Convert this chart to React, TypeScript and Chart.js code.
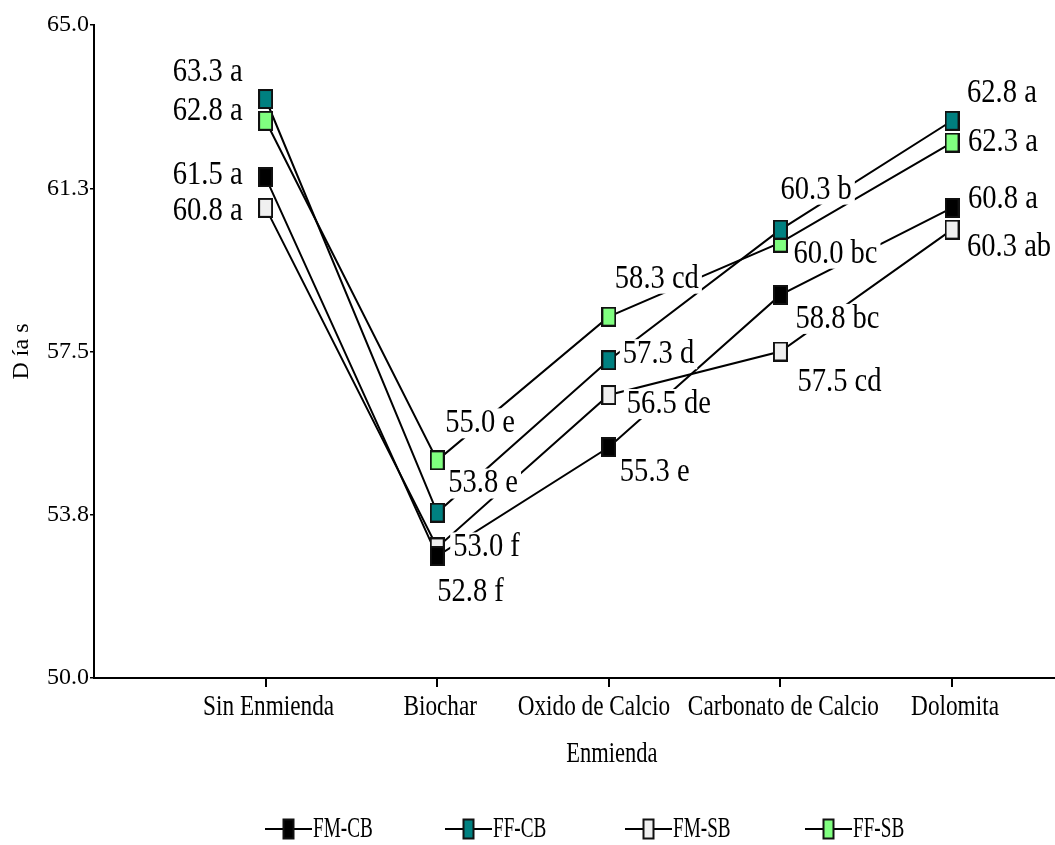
import React, { useEffect, useRef } from 'react';
import { Chart, registerables } from 'chart.js';

Chart.register(...registerables);

// ---------- data ----------
const CATEGORIES = ['Sin Enmienda', 'Biochar', 'Oxido de Calcio', 'Carbonato de Calcio', 'Dolomita'];
const SERIES_NAMES = ['FM-CB', 'FF-CB', 'FM-SB', 'FF-SB'];

const FM_CB = [61.5, 52.8, 55.3, 58.8, 60.8];
const FF_CB = [63.3, 53.8, 57.3, 60.3, 62.8];
const FM_SB = [60.8, 53.0, 56.5, 57.5, 60.3];
const FF_SB = [62.8, 55.0, 58.3, 60.0, 62.3];

const FM_CB_LETTERS = ['a', 'f', 'e', 'bc', 'a'];
const FF_CB_LETTERS = ['a', 'e', 'd', 'b', 'a'];
const FM_SB_LETTERS = ['a', 'f', 'de', 'cd', 'ab'];
const FF_SB_LETTERS = ['a', 'e', 'cd', 'bc', 'a'];

const Y_MIN = 50;
const Y_MAX = 65;
const Y_STEP = 3.75;

const X_TITLE = 'Enmienda';
const Y_TITLE = 'D ía s';

// ---------- styling / layout ----------
const SERIES_VALUES = [FM_CB, FF_CB, FM_SB, FF_SB];
const SERIES_LETTERS = [FM_CB_LETTERS, FF_CB_LETTERS, FM_SB_LETTERS, FF_SB_LETTERS];
const FILL_COLORS = ['#000000', '#008080', '#f0f0f0', '#80ff80'];

// pixel offsets of each value label from its point (dx<0 => right-aligned)
const LABEL_OFFSETS: number[][][] = [
  [[-23, -2], [0, 36], [11, 25], [15, 24], [16, -9]],
  [[-23, -27], [11, -29], [14, -6], [0, -40], [15, -28]],
  [[-23, 3], [16, 0], [18, 9], [17, 31], [15, 17]],
  [[-23, -10], [8, -37], [6, -38], [13, 11], [16, 0]],
];
// horizontal nudge of category labels (overlap avoidance as in the original)
const CATEGORY_LABEL_SHIFT = [3, 3, -15, 3, 3];

const SERIF = '"Liberation Serif", "Times New Roman", serif';
const LABEL_SIZE = 34;
const LABEL_SX = 0.84;
const XLABEL_SIZE = 30;
const XLABEL_SX = 0.775;
const LEGEND_SIZE = 30;
const LEGEND_SX = 0.64;

function markerCanvas(fill: string, w: number, h: number) {
  const c = document.createElement('canvas');
  c.width = w;
  c.height = h;
  const g = c.getContext('2d')!;
  g.fillStyle = '#111111';
  g.fillRect(0, 0, w, h);
  g.fillStyle = fill;
  g.fillRect(2, 2, w - 4, h - 4);
  return c;
}

function drawText(
  ctx: CanvasRenderingContext2D,
  text: string,
  x: number,
  y: number,
  size: number,
  sx: number,
  align: CanvasTextAlign,
  baseline: CanvasTextBaseline
) {
  ctx.save();
  ctx.font = `${size}px ${SERIF}`;
  ctx.textAlign = align;
  ctx.textBaseline = baseline;
  ctx.fillStyle = '#000';
  ctx.translate(x, y);
  ctx.scale(sx, 1);
  ctx.fillText(text, 0, 0);
  ctx.restore();
}

const valueLabelsPlugin = {
  id: 'valueLabels',
  beforeDatasetsDraw(chart: any) {
    chart.$labelsDrawn = false;
  },
  beforeDatasetDraw(chart: any, args: any) {
    const ds = chart.data.datasets[args.index];
    if (!ds.pointLayer || chart.$labelsDrawn) return;
    chart.$labelsDrawn = true;
    const ctx: CanvasRenderingContext2D = chart.ctx;
    const xs = chart.scales.x;
    const ys = chart.scales.y;
    ctx.save();
    ctx.font = `${LABEL_SIZE}px ${SERIF}`;
    const items: any[] = [];
    SERIES_VALUES.forEach((vals, s) => {
      vals.forEach((v, i) => {
        const text = `${v.toFixed(1)} ${SERIES_LETTERS[s][i]}`;
        const [dx, dy] = LABEL_OFFSETS[s][i];
        const px = xs.getPixelForValue(i + 1) + dx;
        const py = ys.getPixelForValue(v) + dy;
        const w = ctx.measureText(text).width * LABEL_SX;
        const align: CanvasTextAlign = dx < 0 ? 'right' : 'left';
        const left = align === 'right' ? px - w : px;
        items.push({ text, px, py, w, left, align });
      });
    });
    ctx.fillStyle = '#ffffff';
    items.forEach((it) => ctx.fillRect(it.left - 3, it.py - 15, it.w + 6, 30));
    ctx.restore();
    items.forEach((it) => drawText(ctx, it.text, it.px, it.py, LABEL_SIZE, LABEL_SX, it.align, 'middle'));
  },
};

const decorPlugin = {
  id: 'decor',
  afterDraw(chart: any) {
    const ctx: CanvasRenderingContext2D = chart.ctx;
    const xs = chart.scales.x;
    const area = chart.chartArea;

    // category labels
    CATEGORIES.forEach((c, i) => {
      drawText(
        ctx,
        c,
        xs.getPixelForValue(i + 1) + CATEGORY_LABEL_SHIFT[i],
        area.bottom + 37,
        XLABEL_SIZE,
        XLABEL_SX,
        'center',
        'alphabetic'
      );
    });
    // x title
    drawText(ctx, X_TITLE, xs.getPixelForValue((CATEGORIES.length + 1) / 2) + 3, area.bottom + 84, XLABEL_SIZE, 0.75, 'center', 'alphabetic');
    // y title
    ctx.save();
    ctx.translate(22, (area.top + area.bottom) / 2);
    ctx.rotate(-Math.PI / 2);
    ctx.font = `24px ${SERIF}`;
    ctx.textAlign = 'center';
    ctx.textBaseline = 'middle';
    ctx.fillStyle = '#000';
    ctx.fillText(Y_TITLE, 0, 0);
    ctx.restore();

    // legend
    const ly = 829;
    SERIES_NAMES.forEach((name, s) => {
      const x0 = 265 + s * 180;
      ctx.save();
      ctx.strokeStyle = '#000';
      ctx.lineWidth = 2;
      ctx.beginPath();
      ctx.moveTo(x0, ly);
      ctx.lineTo(x0 + 47, ly);
      ctx.stroke();
      const mx = x0 + 23.5 - 6;
      ctx.fillStyle = '#111111';
      ctx.fillRect(mx, ly - 10.5, 12, 21);
      ctx.fillStyle = FILL_COLORS[s];
      ctx.fillRect(mx + 2, ly - 8.5, 8, 17);
      ctx.restore();
      drawText(ctx, name, x0 + 48, ly, LEGEND_SIZE, LEGEND_SX, 'left', 'middle');
    });
  },
};

export default function App() {
  const canvasRef = useRef<HTMLCanvasElement | null>(null);

  useEffect(() => {
    const canvas = canvasRef.current;
    if (!canvas) return;

    const lineSets = SERIES_VALUES.map((vals, s) => ({
      label: SERIES_NAMES[s],
      data: vals.map((v, i) => ({ x: i + 1, y: v })),
      borderColor: '#000000',
      borderWidth: 2,
      pointRadius: 0,
      pointHoverRadius: 0,
      fill: false,
      tension: 0,
      order: 2,
    }));
    const pointSets = SERIES_VALUES.map((vals, s) => ({
      label: SERIES_NAMES[s] + ' points',
      pointLayer: true,
      data: vals.map((v, i) => ({ x: i + 1, y: v })),
      showLine: false,
      pointStyle: markerCanvas(FILL_COLORS[s], 15, 20),
      pointRadius: 8,
      pointHoverRadius: 8,
      borderColor: '#000000',
      backgroundColor: FILL_COLORS[s],
      order: 1,
    }));

    const chart = new Chart(canvas, {
      type: 'line',
      data: { datasets: [...lineSets, ...pointSets] as any },
      options: {
        animation: false,
        responsive: false,
        events: [],
        layout: { autoPadding: false, padding: { left: 0, right: 0, top: 25, bottom: 0 } },
        plugins: {
          legend: { display: false },
          tooltip: { enabled: false },
        },
        scales: {
          x: {
            type: 'linear',
            min: 0,
            max: 5.6,
            afterBuildTicks: (s: any) => {
              s.ticks = CATEGORIES.map((_, i) => ({ value: i + 1 }));
            },
            afterFit: (s: any) => {
              s.height = 167;
            },
            ticks: { display: false },
            grid: { drawOnChartArea: false, drawTicks: true, tickLength: 9, color: '#000', lineWidth: 2 },
            border: { display: true, color: '#000', width: 2 },
          },
          y: {
            min: Y_MIN,
            max: Y_MAX,
            afterFit: (s: any) => {
              s.width = 94;
            },
            ticks: {
              stepSize: Y_STEP,
              callback: (v: any) => Number(v).toFixed(1),
              font: { family: SERIF, size: 24 },
              color: '#000',
              padding: 1,
            },
            grid: { drawOnChartArea: false, drawTicks: true, tickLength: 4, color: '#000', lineWidth: 1.5 },
            border: { display: true, color: '#000', width: 2 },
          },
        },
      } as any,
      plugins: [valueLabelsPlugin, decorPlugin],
    });

    return () => chart.destroy();
  }, []);

  return (
    <div style={{ position: 'fixed', left: 0, top: 0, width: 1055, height: 845, background: '#fff' }}>
      <canvas ref={canvasRef} width={1055} height={845} style={{ display: 'block', width: 1055, height: 845 }} />
    </div>
  );
}
